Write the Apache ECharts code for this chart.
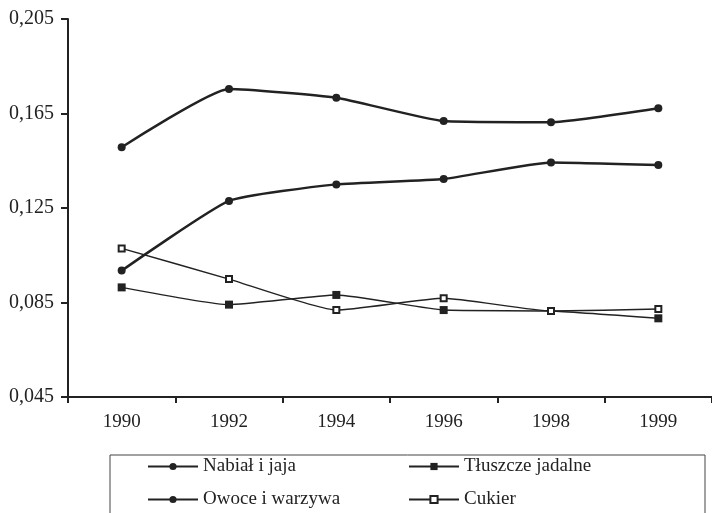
<!DOCTYPE html>
<html>
<head>
<meta charset="utf-8">
<script src="https://cdn.jsdelivr.net/npm/echarts@6/dist/echarts.min.js"></script>
<style>
  html, body { margin: 0; padding: 0; background: #fff; }
  #chart { width: 712px; height: 513px; }
</style>
</head>
<body>
<div id="chart"></div>
<script>
// lata
const years = ['1990', '1992', '1994', '1996', '1998', '1999'];
// udzialy w wydatkach
const nabial = [0.1507, 0.1754, 0.1717, 0.1618, 0.1613, 0.1672];
const owoce = [0.0985, 0.1280, 0.1350, 0.1373, 0.1443, 0.1432];
const tluszcze = [0.0914, 0.0841, 0.0882, 0.0818, 0.0814, 0.0783];
const cukier = [0.1079, 0.0949, 0.0818, 0.0868, 0.0814, 0.0822];
const yTicks = [0.045, 0.085, 0.125, 0.165, 0.205];

const ink = '#222';
const font = 'Liberation Serif';

const chart = echarts.init(document.getElementById('chart'));

function line(name, data, symbol, size, width) {
  return {
    name: name,
    type: 'line',
    data: data,
    smooth: 0.15,
    symbol: symbol,
    symbolSize: size,
    lineStyle: {color: ink, width: width},
    itemStyle: {color: ink, borderWidth: symbol === 'emptyRect' ? 1.3 : 0}
  };
}

const legendBase = {
  orient: 'vertical',
  top: 457,
  padding: 0,
  itemGap: 14,
  itemWidth: 50,
  itemHeight: 9,
  textStyle: {fontFamily: font, fontSize: 19, color: ink}
};

const option = {
  animation: false,
  backgroundColor: '#fff',
  grid: {left: 68, top: 19, width: 648, height: 378},
  legend: [
    Object.assign({}, legendBase, {left: 147, data: ['Nabiał i jaja', 'Owoce i warzywa']}),
    Object.assign({}, legendBase, {left: 408, data: ['Tłuszcze jadalne', 'Cukier']})
  ],
  graphic: [{
    type: 'rect',
    shape: {x: 110, y: 455, width: 595, height: 80},
    style: {fill: 'none', stroke: '#444', lineWidth: 1}
  }],
  xAxis: {
    type: 'category',
    data: years,
    boundaryGap: true,
    axisLine: {lineStyle: {color: ink, width: 2}},
    axisTick: {show: true, length: 6, lineStyle: {color: ink, width: 2}},
    axisLabel: {fontFamily: font, fontSize: 19, color: ink, margin: 16}
  },
  yAxis: {
    type: 'value',
    min: 0.045,
    max: 0.205,
    splitLine: {show: false},
    axisLine: {show: true, lineStyle: {color: ink, width: 2}},
    axisTick: {show: true, length: 7, customValues: yTicks, lineStyle: {color: ink, width: 2}},
    axisLabel: {
      customValues: yTicks,
      fontFamily: font, fontSize: 20, color: ink, margin: 14,
      formatter: v => v.toFixed(3).replace('.', ',')
    }
  },
  series: [
    line('Nabiał i jaja', nabial, 'circle', 8, 2.5),
    line('Tłuszcze jadalne', tluszcze, 'rect', 8, 1.5),
    line('Owoce i warzywa', owoce, 'circle', 8, 2.5),
    line('Cukier', cukier, 'emptyRect', 6, 1.5)
  ]
};

chart.setOption(option);
</script>
</body>
</html>
